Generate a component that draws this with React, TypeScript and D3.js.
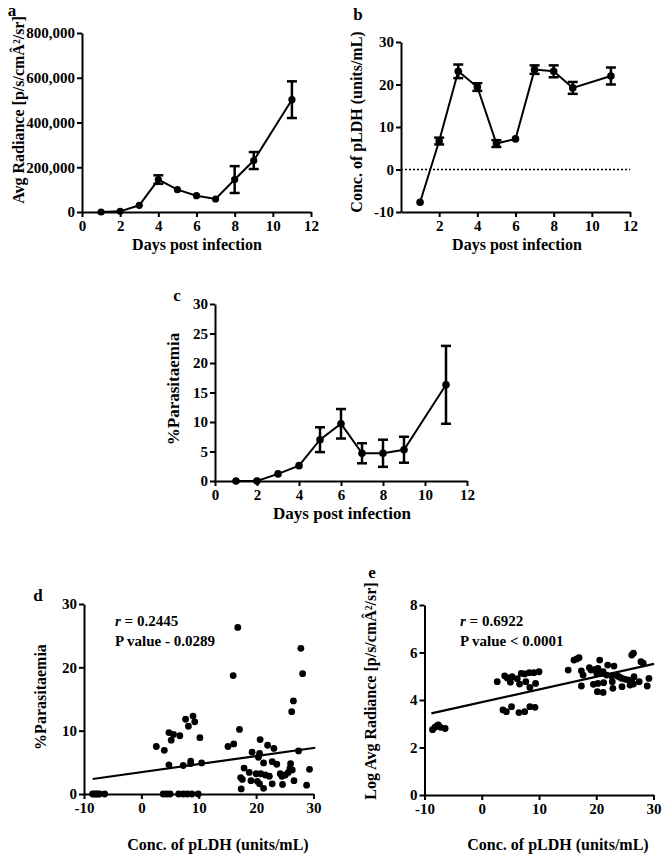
import React, { useEffect, useRef } from 'react';
import * as d3 from 'd3';

// days post infection (shared by panels a-c)
const days = [1, 2, 3, 4, 5, 6, 7, 8, 9, 11];

// a: avg radiance
const radianceMean = [0, 3000, 30000, 145000, 100000, 73000, 58000, 145000, 230000, 502000];
const radianceErr = [0, 0, 0, 19000, 0, 0, 0, 60000, 38000, 82000];

// b: pLDH concentration
const pldhMean = [-7.7, 6.7, 23.1, 19.4, 6.1, 7.2, 23.5, 23.1, 19.2, 22.0];
const pldhErr = [0, 0.8, 1.6, 0.9, 0.8, 0, 1.0, 1.4, 1.4, 2.0];

// c: % parasitaemia
const parasitMean = [0, 0, 1.2, 2.6, 7.0, 9.7, 4.7, 4.7, 5.3, 16.3];
const parasitErr = [0, 0, 0, 0, 2.1, 2.5, 1.7, 2.3, 2.2, 6.6];

const dayTicks = [0, 2, 4, 6, 8, 10, 12];
const dayTicksB = [2, 4, 6, 8, 10, 12];
const radianceTicks = [0, 200000, 400000, 600000, 800000];
const pldhTicks = [-10, 0, 10, 20, 30];
const parasitTicks = [0, 5, 10, 15, 20, 25, 30];
const corrXTicks = [-10, 0, 10, 20, 30];
const corrYTicksD = [0, 10, 20, 30];
const corrYTicksE = [0, 2, 4, 6, 8];

// d: pLDH vs %parasitaemia
const pldhVsParasit: [number, number][] = [
  [-8.5, 0], [-8.2, 0], [-7.9, 0], [-7.6, 0], [-7.3, 0], [-6.4, 0],
  [3.8, 0], [4.4, 0], [5.0, 0], [6.5, 0], [7.3, 0], [8.0, 0], [8.8, 0], [9.9, 0],
  [2.6, 7.5], [4.0, 6.9], [4.8, 9.7], [5.6, 9.4], [5.2, 8.5], [6.7, 9.2], [7.7, 11.8],
  [8.2, 10.7], [9.0, 12.3], [9.3, 11.4], [10.2, 8.9],
  [4.8, 4.6], [7.3, 4.5], [8.6, 5.2], [8.6, 4.8], [10.5, 4.9],
  [16.8, 26.3], [16.0, 18.7], [27.8, 23.0], [28.1, 19.0], [26.5, 14.7], [26.2, 13.0],
  [17.1, 10.2], [15.1, 7.5], [16.1, 7.9], [20.7, 8.6], [22.0, 7.7], [23.1, 7.2],
  [19.3, 6.6], [20.6, 6.4], [20.4, 5.8], [27.4, 6.8], [21.3, 4.9], [22.8, 5.1],
  [23.6, 4.7], [17.9, 4.1], [26.0, 4.8], [25.9, 4.1], [26.3, 3.8], [29.3, 3.9],
  [25.6, 3.4], [18.8, 3.4], [25.1, 3.0], [20.0, 3.2], [20.8, 3.2], [21.6, 3.0],
  [22.3, 2.8], [24.2, 3.2], [24.5, 2.8], [17.3, 2.6], [17.6, 2.3], [19.1, 2.1],
  [20.2, 2.0], [20.6, 1.6], [22.8, 1.6], [24.6, 1.5], [26.6, 2.1], [21.3, 0.9],
  [17.4, 0.8], [28.8, 1.4],
];
const fitD = { slope: 0.127, intercept: 3.45, from: -8.5, to: 30.3 };

// e: pLDH vs log avg radiance
const pldhVsLogRad: [number, number][] = [
  [-8.6, 2.75], [-8.2, 2.85], [-7.9, 2.9], [-7.6, 2.95], [-7.2, 2.85], [-6.4, 2.8],
  [2.7, 4.77], [4.0, 5.02], [4.4, 4.94], [4.9, 4.84], [5.3, 4.98], [6.2, 4.9], [5.0, 4.75],
  [6.9, 5.12], [8.3, 5.15], [9.1, 5.15], [10.0, 5.19], [7.5, 5.1], [6.6, 4.67],
  [7.7, 4.77], [9.4, 4.7], [8.4, 4.53],
  [3.7, 3.58], [4.3, 3.51], [5.2, 3.72], [6.5, 3.47], [7.5, 3.51], [8.4, 3.72], [9.3, 3.69],
  [15.1, 5.26], [16.1, 5.68], [16.6, 5.73], [17.0, 5.78], [17.4, 5.23], [17.7, 5.05],
  [17.4, 4.59], [18.8, 5.36], [19.1, 5.26], [19.8, 5.29], [20.3, 5.33], [20.6, 5.68],
  [20.1, 5.12], [20.9, 5.12], [21.2, 5.19], [19.5, 4.66], [20.3, 4.7], [21.3, 4.73],
  [20.2, 4.35], [21.2, 4.32], [22.0, 5.47], [23.1, 5.43], [21.8, 5.05], [22.7, 5.01],
  [22.8, 4.77], [22.9, 4.49], [23.7, 5.01], [24.1, 4.96], [24.5, 4.91], [25.1, 4.87],
  [24.5, 4.56], [25.7, 4.84], [26.2, 4.77], [26.5, 4.67], [25.9, 4.63], [26.2, 5.89],
  [26.5, 5.97], [27.8, 5.61], [28.2, 5.55], [27.5, 4.77], [29.2, 4.91], [28.9, 4.59],
  [26.6, 4.98],
];
const fitE = { slope: 0.0535, intercept: 3.91, from: -8.8, to: 30.1 };

const FONT = '"Liberation Serif", "Times New Roman", serif';

// plain hyphen for negatives, like the original figure
const plain = (d: any) => String(d);

function styleAxis(sel: any, size = 15) {
  sel.select('.domain').attr('stroke', '#000').attr('stroke-width', 2);
  sel.selectAll('.tick line').attr('stroke', '#000').attr('stroke-width', 2);
  sel.selectAll('.tick text')
    .attr('fill', '#000')
    .style('font-family', FONT)
    .style('font-weight', 'bold')
    .style('font-size', size + 'px');
}

function drawAxes(svg: any, x: any, y: any, xTicks: number[], yTicks: number[], yFmt?: any) {
  const [y0] = y.range();
  const [x0] = x.range();
  const gx = svg.append('g')
    .attr('transform', `translate(0,${y0})`)
    .call(d3.axisBottom(x).tickValues(xTicks).tickSize(5).tickSizeOuter(0).tickPadding(3).tickFormat(plain));
  styleAxis(gx);
  const gy = svg.append('g')
    .attr('transform', `translate(${x0},0)`)
    .call(d3.axisLeft(y).tickValues(yTicks).tickSize(5).tickSizeOuter(0).tickPadding(2).tickFormat(yFmt || plain));
  styleAxis(gy);
}

function label(svg: any, text: string, x: number, y: number, size = 16, rotate = false) {
  const t = svg.append('text')
    .attr('text-anchor', 'middle')
    .style('font-family', FONT)
    .style('font-weight', 'bold')
    .style('font-size', size + 'px')
    .attr('fill', '#000')
    .text(text);
  if (rotate) {
    t.attr('transform', `translate(${x},${y}) rotate(-90)`).attr('dominant-baseline', 'middle');
  } else {
    t.attr('x', x).attr('y', y);
  }
  return t;
}

function drawSeries(svg: any, x: any, y: any, mean: number[], err: number[], r: number) {
  const line = d3.line<number>().x((_, i) => x(days[i])).y(d => y(d));
  svg.append('path')
    .datum(mean)
    .attr('d', line)
    .attr('fill', 'none')
    .attr('stroke', '#000')
    .attr('stroke-width', 2);

  days.forEach((d, i) => {
    if (err[i] > 0) {
      const cx = x(d);
      const top = y(mean[i] + err[i]);
      const bot = y(mean[i] - err[i]);
      const eg = svg.append('g').attr('stroke', '#000').attr('stroke-width', 2.5);
      eg.append('line').attr('x1', cx).attr('x2', cx).attr('y1', top).attr('y2', bot);
      eg.append('line').attr('x1', cx - 5).attr('x2', cx + 5).attr('y1', top).attr('y2', top);
      eg.append('line').attr('x1', cx - 5).attr('x2', cx + 5).attr('y1', bot).attr('y2', bot);
    }
    svg.append('circle').attr('cx', x(d)).attr('cy', y(mean[i])).attr('r', r).attr('fill', '#000');
  });
}

function drawScatter(svg: any, x: any, y: any, pts: [number, number][], fit: any) {
  svg.append('g')
    .selectAll('circle')
    .data(pts)
    .enter()
    .append('circle')
    .attr('cx', (d: any) => x(d[0]))
    .attr('cy', (d: any) => y(d[1]))
    .attr('r', 3.4)
    .attr('fill', '#000');
  svg.append('line')
    .attr('x1', x(fit.from)).attr('y1', y(fit.intercept + fit.slope * fit.from))
    .attr('x2', x(fit.to)).attr('y2', y(fit.intercept + fit.slope * fit.to))
    .attr('stroke', '#000')
    .attr('stroke-width', 2.2);
}

function statText(svg: any, x: number, y: number, r: string, p: string) {
  const t = svg.append('text')
    .attr('x', x).attr('y', y)
    .style('font-family', FONT).style('font-weight', 'bold').style('font-size', '15px');
  t.append('tspan').style('font-style', 'italic').text('r');
  t.append('tspan').text(' = ' + r);
  svg.append('text')
    .attr('x', x).attr('y', y + 20)
    .style('font-family', FONT).style('font-weight', 'bold').style('font-size', '15px')
    .text(p);
}

const App: React.FC = () => {
  const svgRef = useRef<SVGSVGElement>(null);

  useEffect(() => {
    const svg = d3.select(svgRef.current);
    svg.selectAll('*').remove();

    // ---- a ----
    const xa = d3.scaleLinear().domain([0, 12]).range([82, 311]);
    const ya = d3.scaleLinear().domain([0, 800000]).range([212, 33]);
    drawAxes(svg, xa, ya, dayTicks, radianceTicks, d3.format(','));
    drawSeries(svg, xa, ya, radianceMean, radianceErr, 3.6);
    label(svg, 'a', 12, 16, 17);
    label(svg, 'Avg Radiance [p/s/cmÂ²/sr]', 20, 110, 16, true);
    label(svg, 'Days post infection', 197, 250, 16);

    // ---- b ----
    const xb = d3.scaleLinear().domain([0, 12]).range([401, 630]);
    const yb = d3.scaleLinear().domain([-10, 30]).range([212, 42]);
    svg.append('line')
      .attr('x1', xb(0)).attr('x2', xb(12))
      .attr('y1', yb(0)).attr('y2', yb(0))
      .attr('stroke', '#000').attr('stroke-width', 1.5).attr('stroke-dasharray', '2,2');
    drawAxes(svg, xb, yb, dayTicksB, pldhTicks);
    drawSeries(svg, xb, yb, pldhMean, pldhErr, 3.8);
    label(svg, 'b', 358, 20, 17);
    label(svg, 'Conc. of pLDH (units/mL)', 358, 122, 16, true);
    label(svg, 'Days post infection', 517, 250, 16);

    // ---- c ----
    const xc = d3.scaleLinear().domain([0, 12]).range([215, 467]);
    const yc = d3.scaleLinear().domain([0, 30]).range([481, 304]);
    drawAxes(svg, xc, yc, dayTicks, parasitTicks);
    drawSeries(svg, xc, yc, parasitMean, parasitErr, 3.8);
    label(svg, 'c', 177, 301, 17);
    label(svg, '%Parasitaemia', 175, 389, 17, true);
    label(svg, 'Days post infection', 342, 519, 17);

    // ---- d ----
    const xd = d3.scaleLinear().domain([-10, 30]).range([84, 313.5]);
    const yd = d3.scaleLinear().domain([0, 30]).range([794, 604]);
    drawAxes(svg, xd, yd, corrXTicks, corrYTicksD);
    drawScatter(svg, xd, yd, pldhVsParasit, fitD);
    label(svg, 'd', 38, 601, 17);
    label(svg, '%Parasitaemia', 42, 697, 16, true);
    label(svg, 'Conc. of pLDH (units/mL)', 218, 850, 16);
    statText(svg, 115, 626, '0.2445', 'P value - 0.0289');

    // ---- e ----
    const xe = d3.scaleLinear().domain([-10, 30]).range([424.5, 653.5]);
    const ye = d3.scaleLinear().domain([0, 8]).range([795, 605]);
    drawAxes(svg, xe, ye, corrXTicks, corrYTicksE);
    drawScatter(svg, xe, ye, pldhVsLogRad, fitE);
    label(svg, 'e', 372, 578, 17);
    label(svg, 'Log Avg Radiance [p/s/cmÂ²/sr]', 372, 691, 16, true);
    label(svg, 'Conc. of pLDH (units/mL)', 558, 850, 16);
    statText(svg, 460, 626, '0.6922', 'P value < 0.0001');
  }, []);

  return (
    <svg
      ref={svgRef}
      width={662}
      height={855}
      style={{ position: 'absolute', left: 0, top: 0, background: '#fff' }}
    />
  );
};

export default App;
